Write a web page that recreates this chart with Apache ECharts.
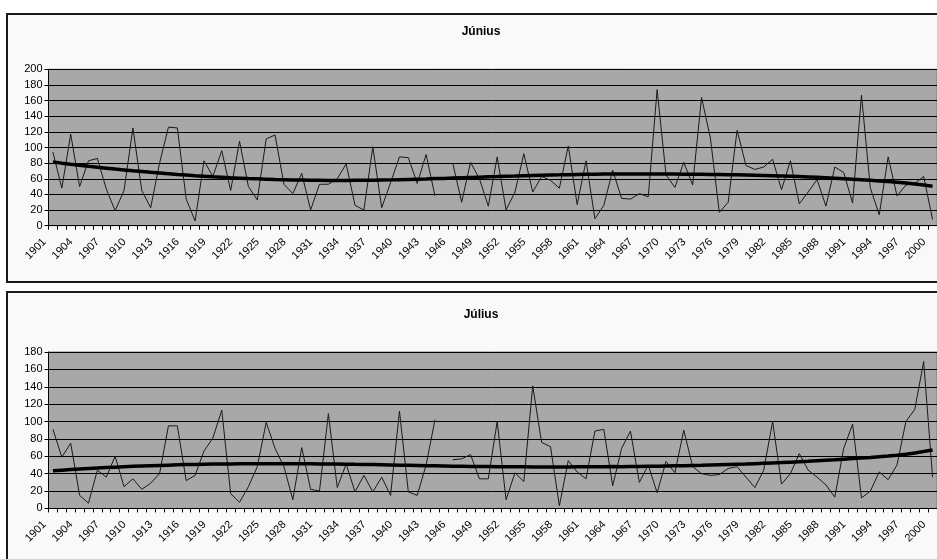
<!DOCTYPE html>
<html>
<head>
<meta charset="utf-8">
<script src="https://cdn.jsdelivr.net/npm/echarts@6/dist/echarts.min.js"></script>
<style>
  html, body { margin: 0; padding: 0; background: #ffffff; }
  #chart { width: 937px; height: 559px; }
</style>
</head>
<body>
<div id="chart"></div>
<script>
// Years on the category axis
const years = [];
for (let y = 1901; y <= 2000; y++) years.push(String(y));

// June precipitation (mm); 1945 missing
const juneRain = [
  94, 48, 117, 50, 83, 86, 47, 19, 45, 125,
  45, 23, 80, 126, 125, 34, 6, 83, 63, 96,
  45, 108, 50, 33, 111, 116, 53, 41, 67, 20,
  53, 53, 60, 79, 26, 20, 101, 23, 55, 88,
  87, 54, 91, 38, null, 80, 30, 81, 60, 25,
  88, 20, 43, 92, 43, 63, 58, 48, 102, 27,
  83, 9, 26, 71, 35, 34, 41, 37, 174, 65,
  49, 81, 52, 164, 112, 17, 30, 122, 77, 72,
  75, 85, 46, 83, 28, 43, 59, 25, 75, 68,
  29, 167, 48, 14, 88, 38, 52, 54, 63, 8
];

// June polynomial trend
const juneTrend = [
  81.5, 80.0, 78.6, 77.3, 76.0, 74.8, 73.6, 72.4, 71.3, 70.2,
  69.2, 68.2, 67.3, 66.4, 65.5, 64.7, 63.9, 63.2, 62.5, 61.9,
  61.3, 60.8, 60.3, 59.9, 59.5, 59.1, 58.8, 58.5, 58.3, 58.1,
  58.0, 57.9, 57.9, 57.9, 58.0, 58.1, 58.2, 58.4, 58.6, 58.9,
  59.2, 59.5, 59.8, 60.2, 60.5, 60.9, 61.3, 61.7, 62.1, 62.5,
  62.8, 63.2, 63.5, 63.9, 64.2, 64.5, 64.8, 65.0, 65.3, 65.5,
  65.7, 65.8, 66.0, 66.1, 66.1, 66.2, 66.2, 66.2, 66.1, 66.1,
  66.0, 65.9, 65.8, 65.7, 65.6, 65.5, 65.3, 65.1, 64.9, 64.6,
  64.3, 64.0, 63.6, 63.2, 62.8, 62.3, 61.8, 61.3, 60.7, 60.1,
  59.4, 58.7, 58.0, 57.2, 56.4, 55.5, 54.5, 53.3, 52.0, 50.5
];

// July precipitation (mm); 1945 missing
const julyRain = [
  91, 59, 75, 15, 6, 44, 36, 60, 25, 34,
  22, 29, 40, 95, 95, 32, 38, 66, 81, 113,
  17, 7, 25, 48, 99, 69, 48, 10, 70, 22,
  20, 109, 24, 51, 19, 38, 19, 36, 15, 112,
  19, 15, 50, 102, null, 56, 57, 62, 34, 34,
  100, 10, 41, 31, 141, 76, 71, 3, 55, 42,
  34, 89, 91, 26, 69, 89, 30, 50, 18, 54,
  41, 90, 48, 40, 38, 39, 46, 48, 36, 24,
  44, 100, 28, 40, 63, 44, 36, 27, 13, 69,
  97, 12, 20, 42, 33, 50, 100, 114, 169, 36
];

// July polynomial trend
const julyTrend = [
  43.3, 44.0, 44.7, 45.3, 45.9, 46.5, 47.0, 47.5, 48.0, 48.4,
  48.8, 49.2, 49.5, 49.8, 50.1, 50.4, 50.6, 50.8, 51.0, 51.1,
  51.2, 51.3, 51.4, 51.4, 51.5, 51.5, 51.5, 51.4, 51.4, 51.3,
  51.2, 51.1, 51.0, 50.9, 50.7, 50.6, 50.4, 50.2, 50.0, 49.8,
  49.6, 49.4, 49.2, 49.0, 48.8, 48.6, 48.5, 48.3, 48.2, 48.1,
  48.0, 47.9, 47.8, 47.8, 47.7, 47.7, 47.7, 47.7, 47.7, 47.8,
  47.8, 47.9, 48.0, 48.1, 48.0, 48.1, 48.2, 48.4, 48.6, 48.8,
  49.0, 49.2, 49.4, 49.6, 49.9, 50.2, 50.5, 50.8, 51.1, 51.5,
  51.9, 52.3, 52.7, 53.2, 53.7, 54.2, 54.8, 55.4, 56.0, 56.7,
  57.4, 58.0, 58.7, 59.5, 60.2, 61.2, 62.4, 63.7, 65.4, 67.3
];

const panels = [
  { title: 'Június', rain: juneRain, trend: juneTrend, max: 200 },
  { title: 'Július', rain: julyRain, trend: julyTrend, max: 180 }
];

const FONT = 'Arial, "Liberation Sans", sans-serif';
const gridTops = [69.3, 352];
const boxTops = [14, 292];
const boxHeights = [268, 275];
const titleTops = [21, 304];

const chart = echarts.init(document.getElementById('chart'), null, { renderer: 'canvas' });

const option = {
  backgroundColor: '#ffffff',
  animation: false,
  graphic: panels.map((p, k) => ({
    type: 'rect',
    z: -10,
    shape: { x: 7, y: boxTops[k], width: 940, height: boxHeights[k] },
    style: { fill: '#f9f9f9', stroke: '#1a1a1a', lineWidth: 2 }
  })),
  title: panels.map((p, k) => ({
    text: p.title,
    left: 476,
    textAlign: 'center',
    top: titleTops[k],
    textStyle: { fontFamily: FONT, fontSize: 12, fontWeight: 'bold', color: '#000' }
  })),
  grid: panels.map((p, k) => ({
    left: 48.5,
    top: gridTops[k],
    width: 892,
    height: 156.4,
    show: true,
    backgroundColor: '#a8a8a8',
    borderColor: '#7f7f7f',
    borderWidth: 1
  })),
  xAxis: panels.map((p, k) => ({
    type: 'category',
    gridIndex: k,
    data: years,
    boundaryGap: true,
    axisLine: { lineStyle: { color: '#000', width: 1 } },
    axisTick: { show: true, interval: 0, length: 4, lineStyle: { color: '#000' } },
    axisLabel: {
      interval: 2,
      rotate: 45,
      margin: 6,
      padding: [0, 12, 6, 0],
      fontFamily: FONT,
      fontSize: 11,
      color: '#000'
    },
    splitLine: { show: false }
  })),
  yAxis: panels.map((p, k) => ({
    type: 'value',
    gridIndex: k,
    min: 0,
    max: p.max,
    interval: 20,
    axisLine: { show: true, lineStyle: { color: '#000', width: 1 } },
    axisTick: { show: true, length: 4, lineStyle: { color: '#000' } },
    axisLabel: { fontFamily: FONT, fontSize: 11, color: '#000', margin: 6 },
    splitLine: { show: true, lineStyle: { color: '#000', width: 1 } }
  })),
  series: panels.flatMap((p, k) => [
    {
      type: 'line',
      xAxisIndex: k,
      yAxisIndex: k,
      data: p.rain,
      symbol: 'none',
      connectNulls: false,
      lineStyle: { color: '#1a1a1a', width: 1 },
      z: 3
    },
    {
      type: 'line',
      xAxisIndex: k,
      yAxisIndex: k,
      data: p.trend,
      symbol: 'none',
      lineStyle: { color: '#000', width: 3.5 },
      z: 4
    }
  ])
};

chart.setOption(option);
</script>
</body>
</html>
